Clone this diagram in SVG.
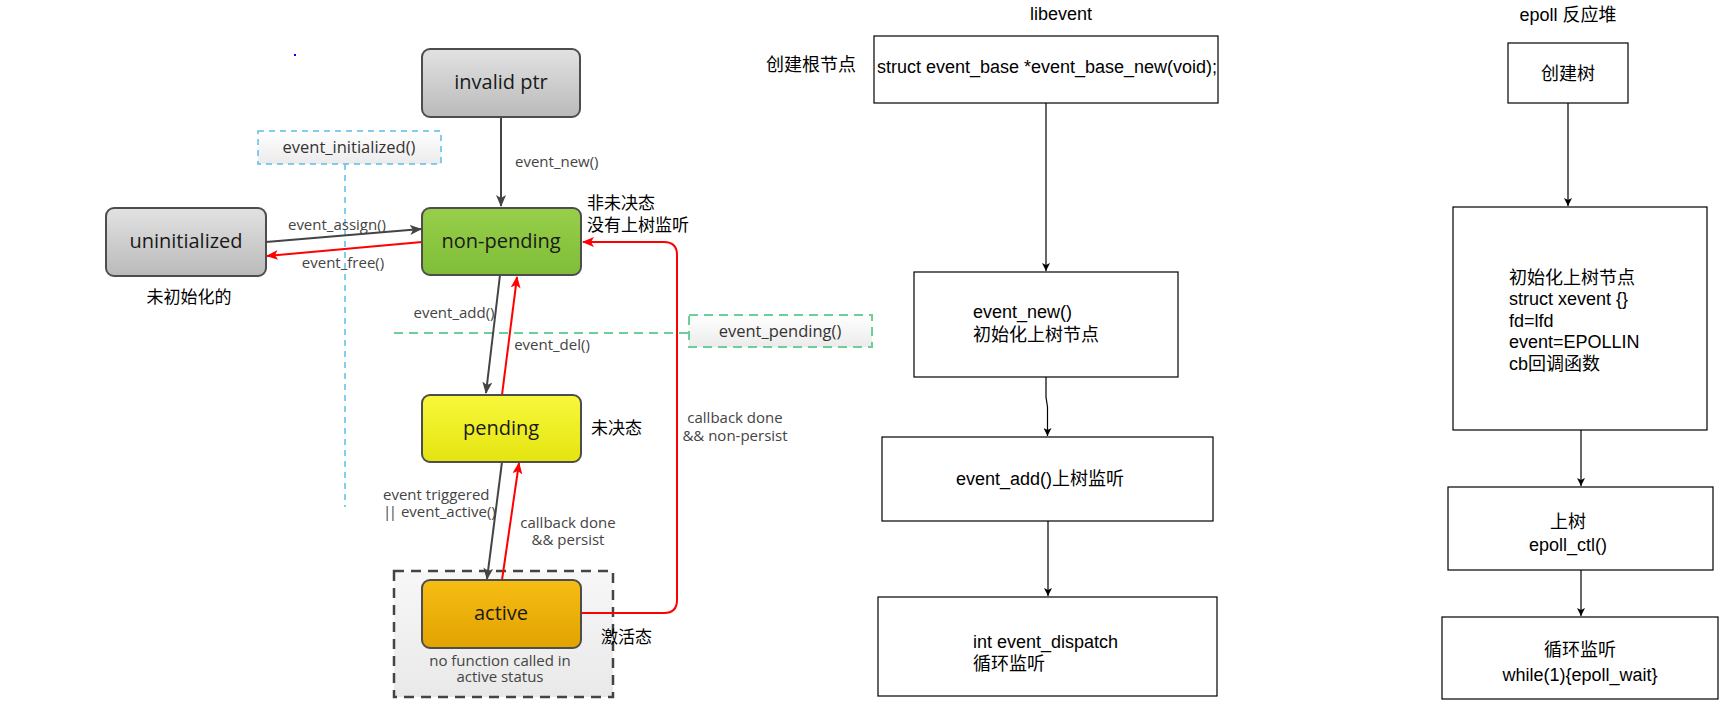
<svg xmlns="http://www.w3.org/2000/svg" width="1720" height="727" viewBox="0 0 1720 727">
<defs>
<linearGradient id="gGray" x1="0" y1="0" x2="0" y2="1"><stop offset="0" stop-color="#e2e2e2"/><stop offset="1" stop-color="#bababa"/></linearGradient>
<linearGradient id="gGreen" x1="0" y1="0" x2="0" y2="1"><stop offset="0" stop-color="#98cf4a"/><stop offset="1" stop-color="#7fbd38"/></linearGradient>
<linearGradient id="gYellow" x1="0" y1="0" x2="0" y2="1"><stop offset="0" stop-color="#f8f83c"/><stop offset="1" stop-color="#e4e410"/></linearGradient>
<linearGradient id="gOrange" x1="0" y1="0" x2="0" y2="1"><stop offset="0" stop-color="#f6bd14"/><stop offset="1" stop-color="#e2a300"/></linearGradient>
<linearGradient id="gLight" x1="0" y1="0" x2="0" y2="1"><stop offset="0" stop-color="#ffffff"/><stop offset="1" stop-color="#ebebeb"/></linearGradient>
<linearGradient id="gBox" x1="0" y1="0" x2="0" y2="1"><stop offset="0" stop-color="#f7f7f7"/><stop offset="1" stop-color="#e9e9e9"/></linearGradient>
<marker id="aDark" viewBox="0 0 12 10" refX="11" refY="5" markerWidth="12" markerHeight="10" markerUnits="userSpaceOnUse" orient="auto"><path d="M0,0 L12,5 L0,10 L3,5 z" fill="#444"/></marker>
<marker id="aRed" viewBox="0 0 12 10" refX="11" refY="5" markerWidth="12" markerHeight="10" markerUnits="userSpaceOnUse" orient="auto"><path d="M0,0 L12,5 L0,10 L3,5 z" fill="#ff0000"/></marker>
<marker id="aBlk" viewBox="0 0 8 8" refX="8" refY="4" markerWidth="8" markerHeight="8" markerUnits="userSpaceOnUse" orient="auto"><path d="M0,0 L8,4 L0,8 L2,4 z" fill="#000"/></marker>
</defs>
<style>
.state{stroke:#4d4d4d;stroke-width:2}
.st{font-family:"Open Sans","Noto Sans",sans-serif;font-size:20px;fill:#1a1a1a;text-anchor:middle}
.lbl{font-family:"Open Sans","Noto Sans",sans-serif;font-size:15px;fill:#444}
.box{font-family:"Open Sans","Noto Sans",sans-serif;font-size:16.5px;fill:#333;text-anchor:middle}
.cn{font-family:"Noto Sans CJK SC",sans-serif;font-size:17px;fill:#000}
.dk{stroke:#444;stroke-width:2;fill:none}
.rd{stroke:#ff0000;stroke-width:2;fill:none}
.fb{fill:#fff;stroke:#000;stroke-width:1.2}
.ft{font-family:"Liberation Sans","Noto Sans CJK SC",sans-serif;font-size:18px;fill:#000}
.fl{stroke:#000;stroke-width:1.2;fill:none}
</style>
<rect width="1720" height="727" fill="#fff"/>
<rect x="294" y="54" width="2" height="2" fill="#0000ff"/>

<g id="guides">
<line x1="345" y1="164" x2="345" y2="507" stroke="#5bbde8" stroke-width="1.5" stroke-dasharray="6,5"/>
<line x1="394" y1="333" x2="689" y2="333" stroke="#6ccf9a" stroke-width="2" stroke-dasharray="9,6"/>
</g>

<g id="active-zone">
<rect x="394" y="571" width="219" height="126" fill="url(#gBox)" stroke="#444" stroke-width="2.5" stroke-dasharray="10,7"/>
<text class="lbl" x="500" y="666" text-anchor="middle">no function called in</text>
<text class="lbl" x="500" y="682" text-anchor="middle">active status</text>
</g>

<g id="connectors">
<line class="dk" x1="501" y1="117" x2="501" y2="206" marker-end="url(#aDark)"/>
<line class="dk" x1="266" y1="242" x2="421" y2="229" marker-end="url(#aDark)"/>
<line class="rd" x1="422" y1="242" x2="267" y2="256" marker-end="url(#aRed)"/>
<line class="dk" x1="500" y1="275" x2="486" y2="393" marker-end="url(#aDark)"/>
<line class="rd" x1="502" y1="395" x2="517" y2="277" marker-end="url(#aRed)"/>
<line class="dk" x1="502" y1="462" x2="487" y2="579" marker-end="url(#aDark)"/>
<line class="rd" x1="502" y1="580" x2="519" y2="463" marker-end="url(#aRed)"/>
<path class="rd" d="M581,613 H664 Q677,613 677,600 V255 Q677,242 664,242 H583" marker-end="url(#aRed)"/>
<text class="lbl" x="515" y="167">event_new()</text>
<text class="lbl" x="337" y="230" text-anchor="middle">event_assign()</text>
<text class="lbl" x="343" y="268" text-anchor="middle">event_free()</text>
<text class="lbl" x="454" y="318" text-anchor="middle">event_add()</text>
<text class="lbl" x="552" y="350" text-anchor="middle">event_del()</text>
<text class="lbl" x="735" y="423" text-anchor="middle">callback done</text>
<text class="lbl" x="735" y="441" text-anchor="middle">&amp;&amp; non-persist</text>
<text class="lbl" x="383" y="500">event triggered</text>
<text class="lbl" x="383" y="517"><tspan letter-spacing="-2.5">||</tspan><tspan dx="2.5"> event_active()</tspan></text>
<text class="lbl" x="568" y="528" text-anchor="middle">callback done</text>
<text class="lbl" x="568" y="545" text-anchor="middle">&amp;&amp; persist</text>

<line class="fl" x1="1046" y1="103" x2="1046" y2="271" marker-end="url(#aBlk)"/>
<path class="fl" d="M1046,377 V397 L1047.5,407 V436" marker-end="url(#aBlk)"/>
<line class="fl" x1="1048" y1="521" x2="1048" y2="596" marker-end="url(#aBlk)"/>
<line class="fl" x1="1568" y1="103" x2="1568" y2="206" marker-end="url(#aBlk)"/>
<line class="fl" x1="1581" y1="430" x2="1581" y2="486" marker-end="url(#aBlk)"/>
<line class="fl" x1="1581" y1="570" x2="1581" y2="616" marker-end="url(#aBlk)"/>
</g>

<g id="event_initialized">
<rect x="258" y="131" width="183" height="33" fill="url(#gLight)" stroke="#5bbde8" stroke-width="1.5" stroke-dasharray="6,5"/>
<text class="box" x="349" y="152.5">event_initialized()</text>
</g>
<g id="event_pending">
<rect x="689" y="315" width="183" height="32" fill="url(#gLight)" stroke="#6ccf9a" stroke-width="2" stroke-dasharray="9,6"/>
<text class="box" x="780" y="336.5">event_pending()</text>
</g>

<g id="invalid-ptr">
<rect class="state" x="422" y="49" width="158" height="68" rx="8" fill="url(#gGray)"/>
<text class="st" x="501" y="89">invalid ptr</text>
</g>
<g id="uninitialized">
<rect class="state" x="106" y="208" width="160" height="68" rx="8" fill="url(#gGray)"/>
<text class="st" x="186" y="248">uninitialized</text>
<text class="cn" x="189" y="303" text-anchor="middle">未初始化的</text>
</g>
<g id="non-pending">
<rect class="state" x="422" y="208" width="159" height="67" rx="8" fill="url(#gGreen)"/>
<text class="st" x="501" y="248">non-pending</text>
<text class="cn" x="587" y="209">非未决态</text>
<text class="cn" x="587" y="231">没有上树监听</text>
</g>
<g id="pending">
<rect class="state" x="422" y="395" width="159" height="67" rx="8" fill="url(#gYellow)"/>
<text class="st" x="501" y="435">pending</text>
<text class="cn" x="591" y="434">未决态</text>
</g>
<g id="active">
<rect class="state" x="422" y="580" width="159" height="68" rx="8" fill="url(#gOrange)"/>
<text class="st" x="501" y="620">active</text>
<text class="cn" x="601" y="643">激活态</text>
</g>

<g id="libevent-title"><text class="ft" x="1061" y="19.5" text-anchor="middle">libevent</text></g>
<g id="lib-base">
<text class="ft" x="811" y="71" text-anchor="middle">创建根节点</text>
<rect class="fb" x="874" y="36" width="344" height="67"/>
<text class="ft" x="1047" y="72.5" text-anchor="middle">struct event_base *event_base_new(void);</text>
</g>
<g id="lib-new">
<rect class="fb" x="914" y="272" width="264" height="105"/>
<text class="ft" x="973" y="318">event_new()</text>
<text class="ft" x="973" y="340.5">初始化上树节点</text>
</g>
<g id="lib-add">
<rect class="fb" x="882" y="437" width="331" height="84"/>
<text class="ft" x="1040" y="485" text-anchor="middle">event_add()上树监听</text>
</g>
<g id="lib-dispatch">
<rect class="fb" x="878" y="597" width="339" height="99"/>
<text class="ft" x="973" y="647.5">int event_dispatch</text>
<text class="ft" x="973" y="669.5">循环监听</text>
</g>

<g id="epoll-title"><text class="ft" x="1568" y="20.5" text-anchor="middle">epoll 反应堆</text></g>
<g id="ep-create">
<rect class="fb" x="1508" y="43" width="120" height="60"/>
<text class="ft" x="1568" y="79.5" text-anchor="middle">创建树</text>
</g>
<g id="ep-init">
<rect class="fb" x="1453" y="207" width="254" height="223"/>
<text class="ft" x="1509" y="283.5">初始化上树节点</text>
<text class="ft" x="1509" y="305">struct xevent {}</text>
<text class="ft" x="1509" y="326.5">fd=lfd</text>
<text class="ft" x="1509" y="348">event=EPOLLIN</text>
<text class="ft" x="1509" y="369.5">cb回调函数</text>
</g>
<g id="ep-ctl">
<rect class="fb" x="1448" y="487" width="265" height="83"/>
<text class="ft" x="1568" y="527.5" text-anchor="middle">上树</text>
<text class="ft" x="1568" y="550.5" text-anchor="middle">epoll_ctl()</text>
</g>
<g id="ep-wait">
<rect class="fb" x="1442" y="617" width="276" height="82"/>
<text class="ft" x="1580" y="655.5" text-anchor="middle">循环监听</text>
<text class="ft" x="1580" y="680.5" text-anchor="middle">while(1){epoll_wait}</text>
</g>
</svg>
